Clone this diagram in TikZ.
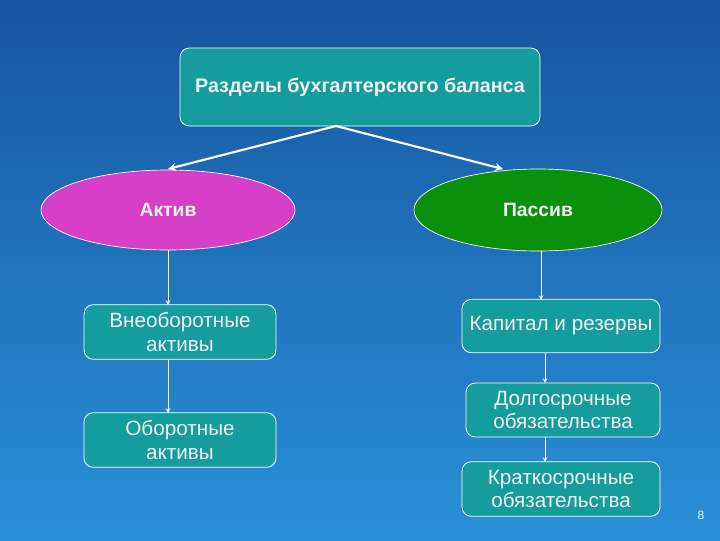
\documentclass[tikz,border=0pt]{standalone}
\usepackage{fontspec}
\setmainfont{Liberation Sans}
\usetikzlibrary{shapes.geometric}
\definecolor{bgtop}{HTML}{1656A0}
\definecolor{bgbot}{HTML}{2A90D8}
\definecolor{teal}{HTML}{159C9C}
\definecolor{mag}{HTML}{D63FC8}
\definecolor{grn}{HTML}{0A900A}
\definecolor{txt}{HTML}{F2F2F2}
\tikzset{
  box/.style={draw=white, line width=0.6pt, fill=teal, rounded corners=7pt, text=txt, align=center, font=\fontsize{15.5}{17.5}\selectfont, inner sep=0pt},
  ell/.style={ellipse, draw=white, line width=0.5pt, inner sep=0pt, text=txt, font=\bfseries\fontsize{14.5}{16}\selectfont},
  arr/.style={draw=white, line width=1.6pt, -stealth},
  arrs/.style={draw=white, line width=0.6pt, -stealth}
}
\begin{document}
\begin{tikzpicture}[x=0.75pt,y=-0.75pt]
\shade[top color=bgtop, bottom color=bgbot] (0,0) rectangle (720,540);
\useasboundingbox (0,0) rectangle (720,540);
\node[box, minimum width=270pt, minimum height=58.5pt, font=\bfseries\fontsize{14.8}{17}\selectfont] (top) at (360,87) {Разделы бухгалтерского баланса};
\node[ell, fill=mag, minimum width=190.5pt, minimum height=60pt] (akt) at (168,210) {Актив};
\node[ell, fill=grn, minimum width=186pt, minimum height=61.5pt] (pas) at (538,210) {Пассив};
\coordinate (tb) at (336,126);
\draw[arr] (tb) -- (168,169);
\draw[arr] (tb) -- (503,169);
\node[box, minimum width=144pt, minimum height=41pt] (vn) at (180,332) {Внеоборотные\\активы};
\node[box, minimum width=144pt, minimum height=41pt] (ob) at (180,440) {Оборотные\\активы};
\node[box, minimum width=148.5pt, minimum height=40pt] (kap) at (561,326) {Капитал и резервы};
\node[box, minimum width=145.5pt, minimum height=40.5pt] (dol) at (563,410) {Долгосрочные\\обязательства};
\node[box, minimum width=148.5pt, minimum height=41pt] (kr) at (561,489) {Краткосрочные\\обязательства};
\draw[arrs] (168,250) -- (168,305);
\draw[arrs] (168,360) -- (168,413);
\draw[arrs] (541,251) -- (541,300);
\draw[arrs] (545,353) -- (545,383);
\draw[arrs] (545,437) -- (545,462);
\node[text=txt, font=\fontsize{9}{10}\selectfont] (pg) at (701,515) {8};
\end{tikzpicture}
\end{document}
